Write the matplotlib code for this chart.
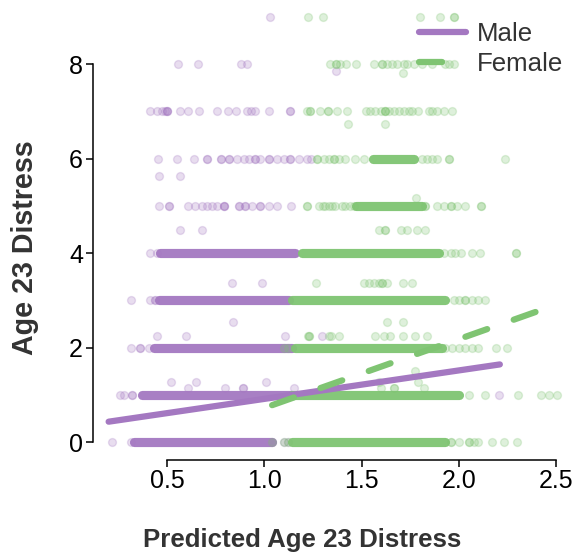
import numpy as np
import matplotlib
matplotlib.use("Agg")
import matplotlib.pyplot as plt

plt.rcParams['font.family'] = ['Liberation Sans', 'DejaVu Sans']

PURPLE = "#a478c1"
GREEN = "#7fc472"

# scattered (not saturated) points, keyed by observed distress level
male_points = {
    9: [1.03],
    8: [0.557, 0.66, 0.88, 0.912],
    7.85: [1.366],
    7: [0.415, 0.449, 0.475, 0.492, 0.50, 0.50, 0.50, 0.569, 0.608, 0.663, 0.757,
        0.814, 0.852, 0.912, 0.934, 0.951, 1.023, 1.131, 1.131],
    6: [0.454, 0.552, 0.637, 0.706, 0.706, 0.775, 0.775, 0.817, 0.817, 0.86, 0.894,
        0.92, 0.954, 0.954, 0.98, 1.023, 1.023, 1.066, 1.10, 1.134, 1.134, 1.177,
        1.22, 1.24],
    5.62: [0.458, 0.566],
    5: [0.458, 0.512, 0.512, 0.608, 0.646, 0.68, 0.706, 0.732, 0.757, 0.792, 0.792,
        0.792, 0.869, 0.869, 0.903, 0.903, 0.937, 0.98, 0.98, 1.023, 1.066, 1.139],
    4.49: [0.569, 0.68],
    4: [0.415, 0.449],
    3.37: [0.834, 0.989],
    3: [0.315, 0.415, 0.44, 0.44],
    2.55: [0.838],
    2.24: [0.449, 0.60, 1.108, 1.297],
    2: [0.317, 0.363, 0.363, 0.406],
    1.28: [0.518, 0.651, 1.011],
    1.14: [0.608, 0.80, 0.889, 0.889, 1.151],
    1: [0.26, 0.278, 0.32, 0.32, 2.205],
    0: [0.218, 0.317, 1.04, 1.10, 1.12],
}
female_points = {
    9: [1.225, 1.302, 1.802, 1.90, 1.974, 1.974],
    8: [1.335, 1.366, 1.366, 1.39, 1.42, 1.47, 1.563, 1.605, 1.605, 1.63, 1.657,
        1.683, 1.717, 1.734, 1.77, 1.81, 1.862, 1.93, 1.948, 1.974],
    7.8: [1.71],
    7: [1.22, 1.237, 1.237, 1.288, 1.328, 1.328, 1.374, 1.425, 1.52, 1.545, 1.571,
        1.597, 1.619, 1.619, 1.619, 1.64, 1.665, 1.691, 1.717, 1.742, 1.759, 1.79,
        1.845, 1.862, 1.888, 1.922, 1.962],
    6.74: [1.43, 1.622],
    6: [1.271, 1.271, 1.305, 1.331, 1.357, 1.357, 1.383, 1.417, 1.468, 1.511, 1.811,
        1.837, 1.862, 1.888, 1.948, 1.948, 2.234],
    5.16: [1.777],
    5: [1.22, 1.22, 1.28, 1.30, 1.314, 1.331, 1.348, 1.365, 1.40, 1.417, 1.44, 1.46,
        1.825, 1.825, 1.888, 1.922, 1.957, 1.957, 1.99, 2.033, 2.115, 2.115],
    4.49: [1.588, 1.622, 1.622, 1.70, 1.734, 1.785, 1.828],
    4: [1.922, 1.957, 1.982, 2.008, 2.068, 2.11, 2.294, 2.294],
    3.37: [1.263, 1.511, 1.537, 1.563, 1.588, 1.605, 1.605, 1.631, 1.712, 1.759],
    3: [1.974, 1.999, 2.033, 2.033, 2.068, 2.10, 2.136],
    2.55: [1.631, 1.712],
    2.24: [1.225, 1.232, 1.232, 1.331, 1.345, 1.383, 1.571, 1.614, 1.648, 1.712,
           1.773, 1.837],
    2: [1.10, 1.12, 1.93, 1.965, 1.999, 2.033, 2.068, 2.10, 2.188, 2.248],
    1.51: [1.773],
    1.28: [1.588, 1.79],
    1.14: [1.597, 1.665, 1.665, 1.819],
    1: [2.05, 2.136, 2.304, 2.419, 2.462, 2.505],
    0: [1.04, 1.10, 1.12, 1.957, 1.957, 1.999, 2.05, 2.05, 2.075, 2.10, 2.17, 2.23,
        2.30],
}

# saturated runs of overlapping points: level, first x, last x
male_band_y = [4, 3, 2, 1, 0]
male_band_start = [0.466, 0.457, 0.432, 0.372, 0.329]
male_band_end = [1.16, 1.126, 1.142, 1.142, 1.04]
female_band_y = [6, 5, 4, 3, 2, 1, 0]
female_band_start = [1.56, 1.47, 1.194, 1.142, 1.16, 1.142, 1.142]
female_band_end = [1.77, 1.81, 1.896, 1.93, 1.913, 1.999, 1.93]

# fitted regression lines
male_intercept, male_slope, male_range = 0.31, 0.603, (0.20, 2.21)
female_intercept, female_slope, female_range = -0.735, 1.457, (1.04, 2.42)

fig = plt.figure(figsize=(5.75, 5.52), dpi=100)
ax = fig.add_axes([0.15506, 0.16069, 0.8327, 0.8346])


def draw_group(points, band_y, band_start, band_end, color, z):
    xs = [x for lvl, vals in points.items() for x in vals]
    ys = [lvl for lvl, vals in points.items() for _ in vals]
    ax.scatter(xs, ys, s=32, color=color, alpha=0.25, linewidths=1.0, zorder=z)
    ax.hlines(band_y, band_start, band_end, colors=color, linewidth=6.6,
              alpha=0.95, capstyle='round', zorder=z)


draw_group(male_points, male_band_y, male_band_start, male_band_end, PURPLE, 2)
draw_group(female_points, female_band_y, female_band_start, female_band_end, GREEN, 3)

mx = np.array(male_range)
ax.plot(mx, male_intercept + male_slope * mx, color=PURPLE, lw=4.5,
        solid_capstyle='round', zorder=4, label="Male")
fx = np.array(female_range)
ax.plot(fx, female_intercept + female_slope * fx, color=GREEN, lw=4.5,
        linestyle=(0, (3.7, 4.5)), dash_capstyle='round', zorder=4, label="Female")

ax.set_xlim(0.1, 2.56)
ax.set_ylim(-0.45, 9.3)
for side in ['top', 'right']:
    ax.spines[side].set_visible(False)
ax.spines['left'].set_position(('data', 0.118))
ax.spines['bottom'].set_position(('data', -0.38))
ax.spines['left'].set_bounds(0, 8)
ax.spines['bottom'].set_bounds(0.5, 2.5)
for side in ['left', 'bottom']:
    ax.spines[side].set_linewidth(1.1)

ax.set_xticks([0.5, 1.0, 1.5, 2.0, 2.5])
ax.set_xticklabels(["0.5", "1.0", "1.5", "2.0", "2.5"])
ax.set_yticks([0, 2, 4, 6, 8])
ax.tick_params(labelsize=18, length=5, width=1.1, colors='black')
ax.tick_params(axis='x', pad=1.5)
ax.tick_params(axis='y', pad=2)

ax.set_xlabel("Predicted Age 23 Distress", fontsize=18.6, fontweight='bold', color='#333333')
ax.set_ylabel("Age 23 Distress", fontsize=20.6, fontweight='bold', color='#333333')
ax.xaxis.set_label_coords(302.5 / 575, 1 - 547 / 552, transform=fig.transFigure)
ax.xaxis.label.set_verticalalignment('baseline')
ax.yaxis.set_label_coords(25 / 575, 1 - 247.5 / 552, transform=fig.transFigure)
ax.yaxis.label.set_verticalalignment('center')

leg = ax.legend(loc='upper right', bbox_to_anchor=(1.0105, 0.981), frameon=False,
                fontsize=18.6, handlelength=1.8, handletextpad=0.42,
                labelspacing=0.25, borderaxespad=0)
for t in leg.get_texts():
    t.set_color('#333333')

plt.savefig("out.png", dpi=100)
plt.close()
